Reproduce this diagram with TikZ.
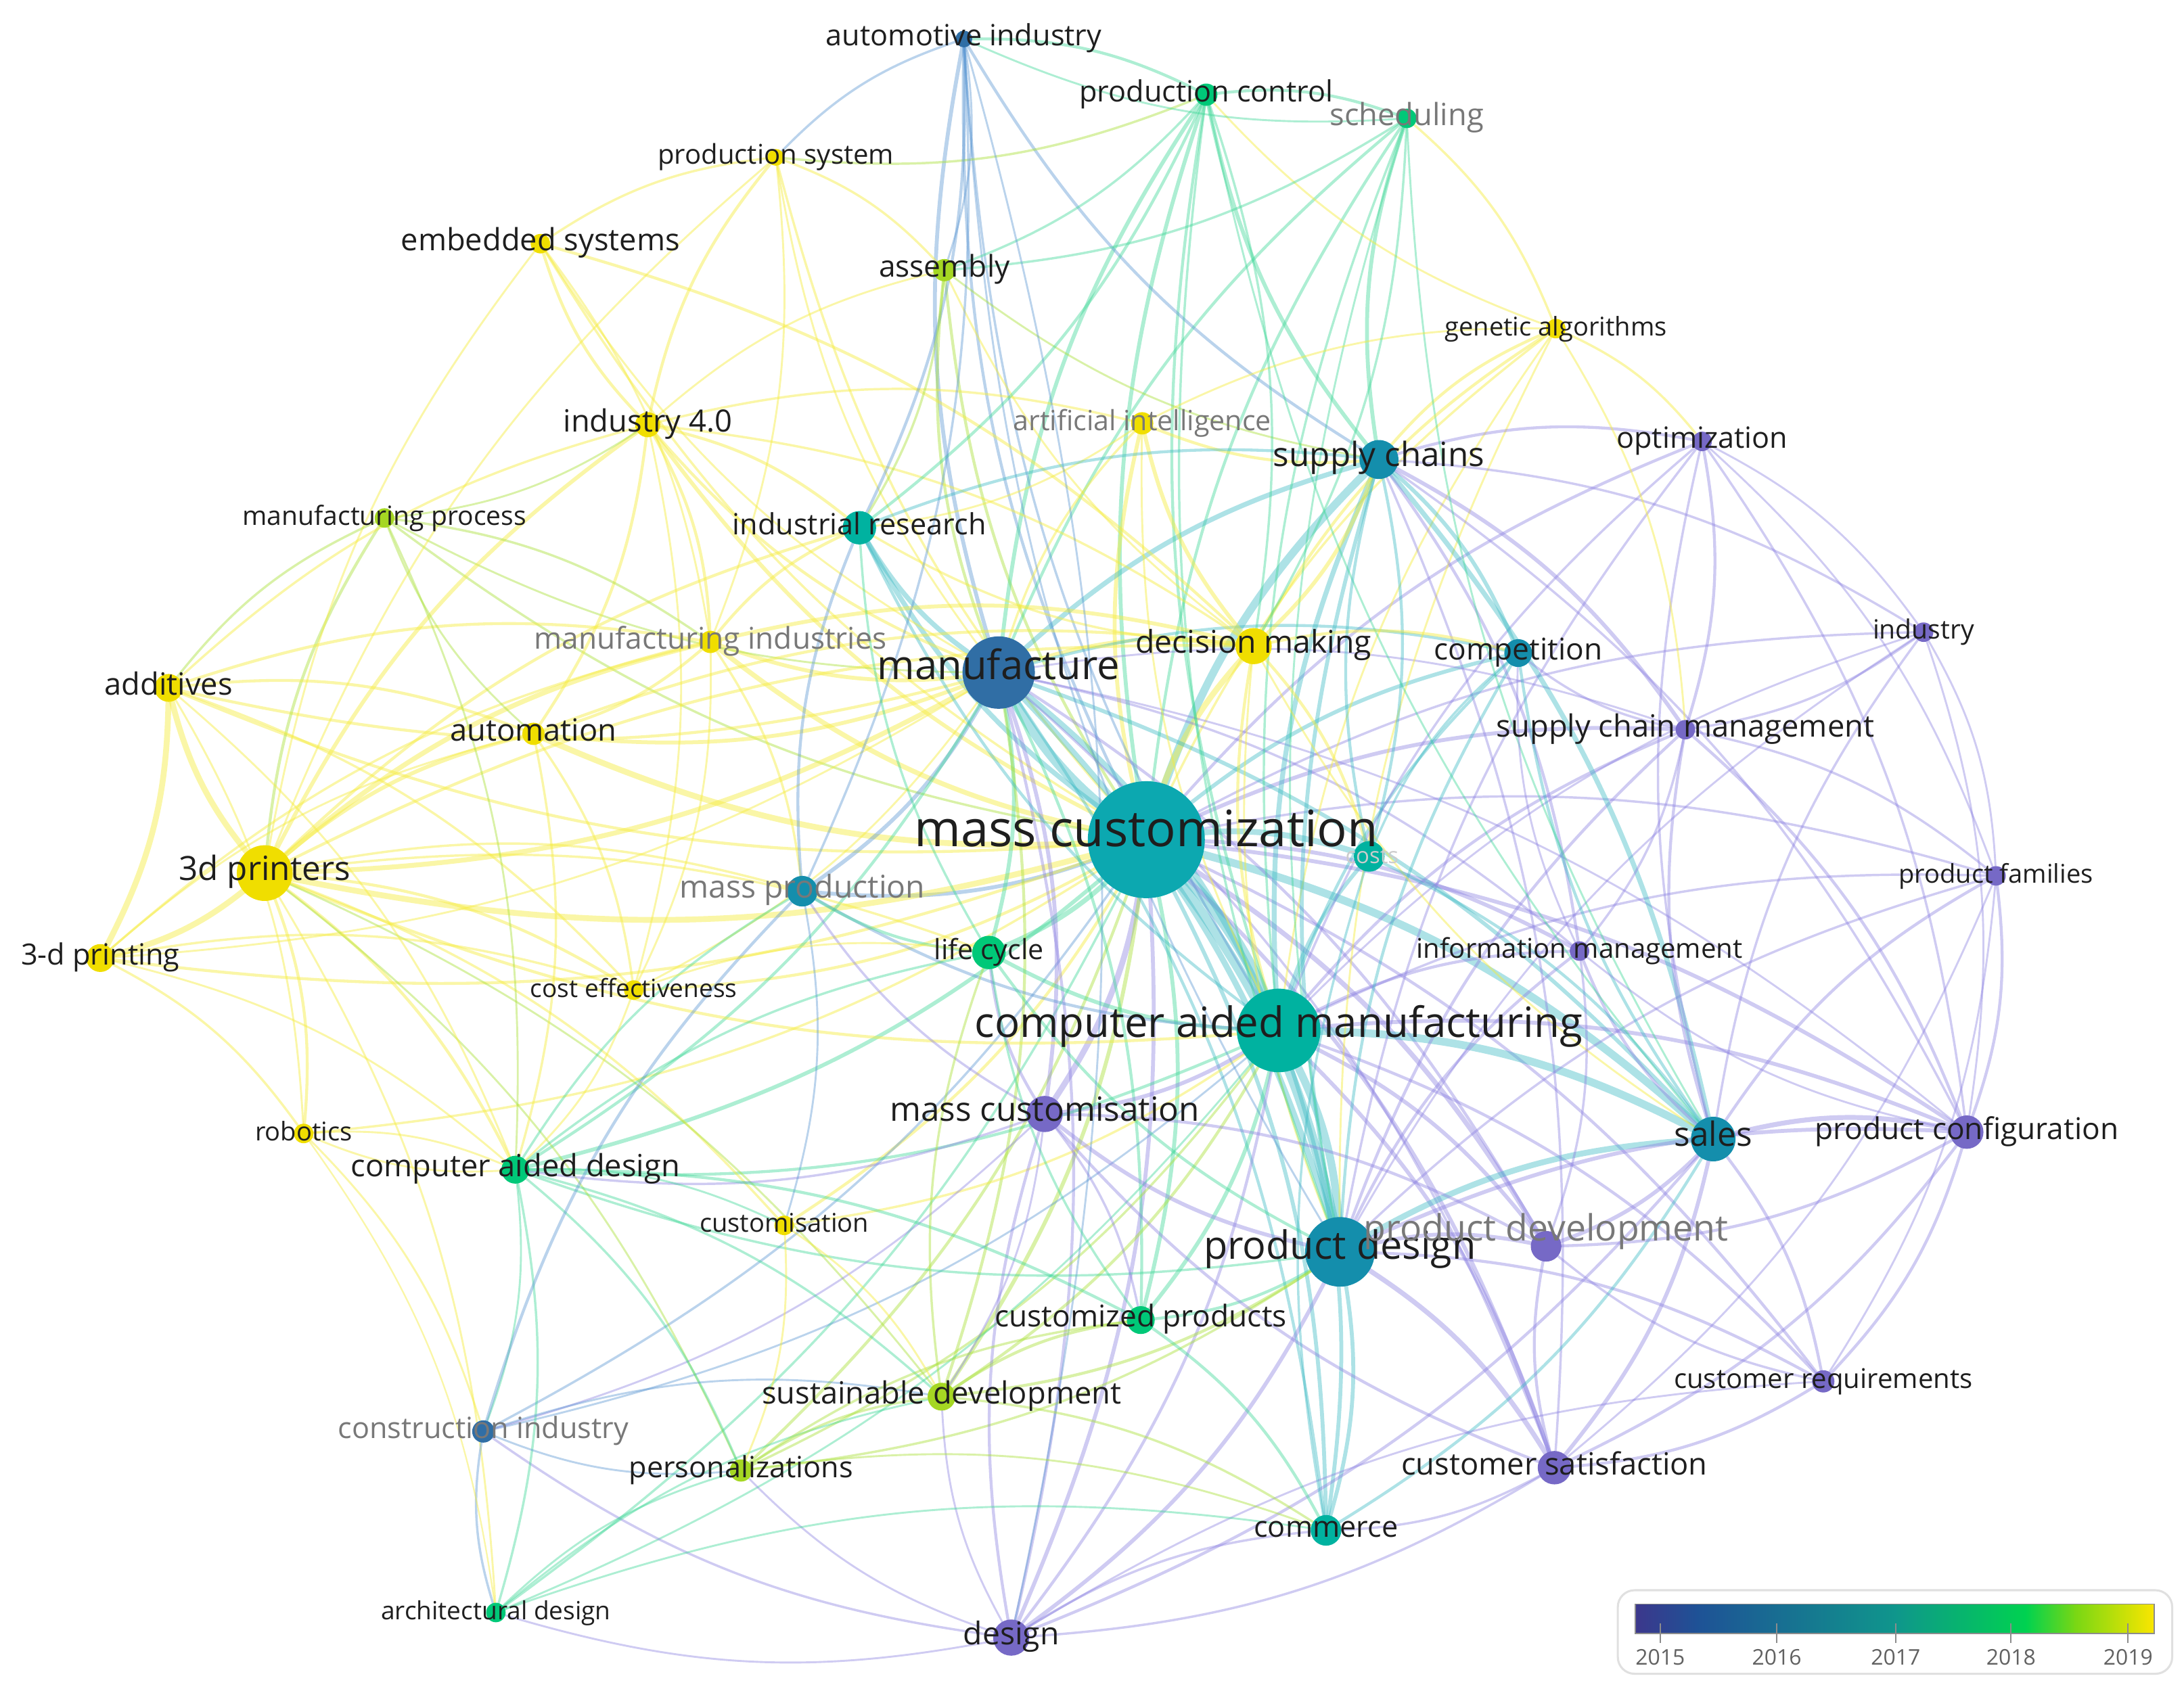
\documentclass[tikz,border=0pt]{standalone}
\usepackage{fontspec}
\setmainfont{Open Sans}
\pgfdeclarelayer{edges}
\pgfdeclarelayer{labels}
\pgfsetlayers{edges,main,labels}
\def\S{0.5}
\def\W{0.7}
\def\BND{14}
\newcommand\kwfs[1]{\pgfmathsetmacro\kwsz{#1*\S}\fontsize{\kwsz pt}{\kwsz pt}\selectfont}
\definecolor{nY}{RGB}{240,222,0}
\definecolor{nL}{RGB}{165,215,35}
\definecolor{nG}{RGB}{0,200,120}
\definecolor{nT}{RGB}{0,178,160}
\definecolor{nMC}{RGB}{12,168,176}
\definecolor{nTB}{RGB}{20,142,172}
\definecolor{nB}{RGB}{48,110,165}
\definecolor{nP}{RGB}{118,105,198}
\definecolor{edY}{RGB}{245,235,60}
\definecolor{edL}{RGB}{170,225,60}
\definecolor{edG}{RGB}{60,215,150}
\definecolor{edT}{RGB}{60,185,195}
\definecolor{edB}{RGB}{90,150,210}
\definecolor{edP}{RGB}{140,130,225}
\definecolor{lgA}{RGB}{60,55,140}
\definecolor{lgB}{RGB}{30,82,150}
\definecolor{lgC}{RGB}{15,150,140}
\definecolor{lgD}{RGB}{0,210,80}
\definecolor{lgE}{RGB}{120,215,20}
\definecolor{lgF}{RGB}{250,230,0}
\definecolor{txt}{RGB}{30,30,30}
\definecolor{gtxt}{RGB}{120,120,120}
\tikzset{
  kn/.style={circle,inner sep=0pt,draw=none,minimum size={#1*\S}},
  lab/.style={inner sep=0pt,text height=0.72em,text depth=0.22em,text=txt,anchor=center},
  glab/.style={lab,text=gtxt},
  eY/.style={draw=edY,draw opacity=.45,line cap=round},
  eL/.style={draw=edL,draw opacity=.45,line cap=round},
  eG/.style={draw=edG,draw opacity=.42,line cap=round},
  eT/.style={draw=edT,draw opacity=.42,line cap=round},
  eB/.style={draw=edB,draw opacity=.42,line cap=round},
  eP/.style={draw=edP,draw opacity=.42,line cap=round},
}
\begin{document}
\begin{tikzpicture}[x=0.5pt,y=-0.5pt]
\useasboundingbox (0,0) rectangle (1568,1214);
% ---------- nodes ----------
\node[kn=12,fill=nB] (ai) at (692,28) {};
\node[kn=16,fill=nG] (pc) at (866,68) {};
\node[kn=14,fill=nG] (sch) at (1010,85) {};
\node[kn=12,fill=nY] (ps) at (557,113) {};
\node[kn=14,fill=nY] (es) at (388,175) {};
\node[kn=16,fill=nL] (asm) at (678,194) {};
\node[kn=14,fill=nY] (ga) at (1117,236) {};
\node[kn=18,fill=nY] (i40) at (465,305) {};
\node[kn=16,fill=nY] (aint) at (820,304) {};
\node[kn=28,fill=nTB] (sc) at (990,330) {};
\node[kn=14,fill=nP] (opt) at (1222,317) {};
\node[kn=14,fill=nL] (mp) at (276,372) {};
\node[kn=24,fill=nT] (ir) at (617,379) {};
\node[kn=16,fill=nY] (mi) at (510,461) {};
\node[kn=26,fill=nY] (dm) at (900,464) {};
\node[kn=20,fill=nTB] (comp) at (1090,469) {};
\node[kn=14,fill=nP] (ind) at (1381,454) {};
\node[kn=52,fill=nB] (mf) at (717,483) {};
\node[kn=20,fill=nY] (add) at (121,494) {};
\node[kn=16,fill=nY] (aut) at (383,527) {};
\node[kn=14,fill=nP] (scm) at (1210,524) {};
\node[kn=84,fill=nMC] (mc) at (823,603) {};
\node[kn=22,fill=nT] (cst) at (983,615) {};
\node[kn=40,fill=nY] (p3d) at (190,627) {};
\node[kn=22,fill=nTB] (mpr) at (576,640) {};
\node[kn=14,fill=nP] (pf) at (1433,629) {};
\node[kn=20,fill=nY] (d3p) at (72,688) {};
\node[kn=24,fill=nG] (lc) at (710,684) {};
\node[kn=14,fill=nP] (im) at (1134,683) {};
\node[kn=14,fill=nY] (ce) at (455,711) {};
\node[kn=60,fill=nT] (cam) at (918,740) {};
\node[kn=26,fill=nP] (mcs) at (750,800) {};
\node[kn=14,fill=nY] (rob) at (218,814) {};
\node[kn=32,fill=nTB] (sal) at (1230,818) {};
\node[kn=24,fill=nP] (pcf) at (1412,813) {};
\node[kn=20,fill=nG] (cad) at (370,840) {};
\node[kn=14,fill=nY] (cus) at (563,880) {};
\node[kn=50,fill=nTB] (pd) at (962,899) {};
\node[kn=22,fill=nP] (pdv) at (1110,895) {};
\node[kn=20,fill=nG] (cp) at (819,948) {};
\node[kn=20,fill=nL] (sd) at (676,1003) {};
\node[kn=16,fill=nP] (cr) at (1309,992) {};
\node[kn=16,fill=nB] (ci) at (347,1028) {};
\node[kn=16,fill=nL] (per) at (532,1056) {};
\node[kn=24,fill=nP] (cs) at (1116,1054) {};
\node[kn=22,fill=nT] (com) at (952,1099) {};
\node[kn=14,fill=nG] (ad) at (356,1158) {};
\node[kn=26,fill=nP] (des) at (726,1176) {};
% ---------- labels ----------
\begin{pgfonlayer}{labels}
\node[lab,font=\kwfs{21}] (ai-t) at (ai) {automotive industry};
\node[lab,font=\kwfs{21}] (pc-t) at (pc) {production control};
\node[glab,font=\kwfs{22}] (sch-t) at (sch) {scheduling};
\node[lab,font=\kwfs{19.5}] (ps-t) at (ps) {production system};
\node[lab,font=\kwfs{22}] (es-t) at (es) {embedded systems};
\node[lab,font=\kwfs{21.5}] (asm-t) at (asm) {assembly};
\node[lab,font=\kwfs{18.5}] (ga-t) at (ga) {genetic algorithms};
\node[lab,font=\kwfs{22}] (i40-t) at (i40) {industry 4.0};
\node[glab,font=\kwfs{20}] (aint-t) at (aint) {artificial intelligence};
\node[lab,font=\kwfs{24}] (sc-t) at (sc) {supply chains};
\node[lab,font=\kwfs{21}] (opt-t) at (opt) {optimization};
\node[lab,font=\kwfs{19}] (mp-t) at (mp) {manufacturing process};
\node[lab,font=\kwfs{21}] (ir-t) at (ir) {industrial research};
\node[glab,font=\kwfs{21.5}] (mi-t) at (mi) {manufacturing industries};
\node[lab,font=\kwfs{22.5}] (dm-t) at (dm) {decision making};
\node[lab,font=\kwfs{21.5}] (comp-t) at (comp) {competition};
\node[lab,font=\kwfs{19}] (ind-t) at (ind) {industry};
\node[lab,font=\kwfs{29}] (mf-t) at (mf) {manufacture};
\node[lab,font=\kwfs{22}] (add-t) at (add) {additives};
\node[lab,font=\kwfs{22}] (aut-t) at (aut) {automation};
\node[lab,font=\kwfs{22}] (scm-t) at (scm) {supply chain management};
\node[lab,font=\kwfs{36}] (mc-t) at (mc) {mass customization};
\node[lab,font=\kwfs{16},text=black!20] (cst-t) at ([xshift=1pt]cst) {costs};
\node[lab,font=\kwfs{24}] (p3d-t) at (p3d) {3d printers};
\node[glab,font=\kwfs{22.5}] (mpr-t) at (mpr) {mass production};
\node[lab,font=\kwfs{18.5}] (pf-t) at (pf) {product families};
\node[lab,font=\kwfs{21}] (d3p-t) at (d3p) {3-d printing};
\node[lab,font=\kwfs{20}] (lc-t) at (lc) {life cycle};
\node[lab,font=\kwfs{19.5}] (im-t) at (im) {information management};
\node[lab,font=\kwfs{18}] (ce-t) at (ce) {cost effectiveness};
\node[lab,font=\kwfs{30}] (cam-t) at (cam) {computer aided manufacturing};
\node[lab,font=\kwfs{24}] (mcs-t) at (mcs) {mass customisation};
\node[lab,font=\kwfs{18.5}] (rob-t) at (rob) {robotics};
\node[lab,font=\kwfs{24}] (sal-t) at (sal) {sales};
\node[lab,font=\kwfs{21.5}] (pcf-t) at (pcf) {product configuration};
\node[lab,font=\kwfs{22}] (cad-t) at (cad) {computer aided design};
\node[lab,font=\kwfs{18.5}] (cus-t) at (cus) {customisation};
\node[lab,font=\kwfs{28}] (pd-t) at (pd) {product design};
\node[glab,font=\kwfs{26}] (pdv-t) at ([yshift=4.5pt]pdv) {product development};
\node[lab,font=\kwfs{21.5}] (cp-t) at (cp) {customized products};
\node[lab,font=\kwfs{22}] (sd-t) at (sd) {sustainable development};
\node[lab,font=\kwfs{19.5}] (cr-t) at (cr) {customer requirements};
\node[glab,font=\kwfs{21}] (ci-t) at (ci) {construction industry};
\node[lab,font=\kwfs{21}] (per-t) at (per) {personalizations};
\node[lab,font=\kwfs{22}] (cs-t) at (cs) {customer satisfaction};
\node[lab,font=\kwfs{21}] (com-t) at (com) {commerce};
\node[lab,font=\kwfs{18}] (ad-t) at (ad) {architectural design};
\node[lab,font=\kwfs{22.5}] (des-t) at (des) {design};
\end{pgfonlayer}
% ---------- edges ----------
\begin{pgfonlayer}{edges}
\foreach \t/\c/\w in {mf/T/5,cam/T/6,pd/T/5,sc/T/4,sal/T/4,mcs/P/3,lc/G/2.5,mpr/B/2,ir/T/2.5,dm/Y/3,comp/T/2,cst/T/3,im/P/2,pdv/P/2.5,cp/G/2,com/T/2,des/P/2,cs/P/2,p3d/Y/3,add/Y/1.5,aut/Y/3,i40/Y/2,mi/Y/2.5,pc/G/2,sch/G/1.5,asm/L/1.5,ai/B/1.5,aint/Y/2,ga/Y/1.2,opt/P/1.5,scm/P/2,ind/P/1.2,pf/P/1.2,pcf/P/2,cr/P/1.5,cad/G/2,cus/Y/1.5,sd/L/2,per/L/1.5,ci/B/1.2,ad/G/1.2,ce/Y/1.5,d3p/Y/1.5,rob/Y/1.2,mp/L/1.2,ps/Y/1.2,es/Y/1.2}
  \draw[e\c,line width=\w*\W] (mc.center) to[bend left=\BND] (\t.center);
\foreach \t/\c/\w in {cam/T/3,pd/T/3,sc/T/2.5,sal/T/2,mcs/P/2,lc/G/2,mpr/B/2,ir/T/2.5,dm/Y/2,comp/T/1.5,pc/G/2,ai/B/2,asm/L/1.5,i40/Y/1.5,mi/Y/2,aut/Y/2,p3d/Y/2.5,add/Y/1.5,cad/G/1.5,des/P/1.5,com/T/1.5,cp/G/1.5,sd/L/1.5,sch/G/1.5,aint/Y/1.2,pdv/P/1.5,cs/P/1.2,im/P/1.2,ps/Y/1,es/Y/1,mp/L/1,ce/Y/1,d3p/Y/1,scm/P/1,pcf/P/1}
  \draw[e\c,line width=\w*\W] (mf.center) to[bend left=\BND] (\t.center);
\foreach \t/\c/\w in {pd/T/4,sal/T/4,sc/T/2.5,mcs/P/2,lc/G/2,comp/T/1.5,cst/T/2,im/P/1.5,pdv/P/2,cp/G/2,com/T/2,des/P/1.5,cs/P/2,pcf/P/2,cr/P/1.5,scm/P/1.5,opt/P/1.2,pf/P/1.2,ind/P/1,dm/Y/1.5,ir/T/1.5,pc/G/1.5,sch/G/1.2,ga/Y/1,aint/Y/1,mpr/B/1.5,cad/G/1.5,sd/L/1.5,per/L/1.2,cus/Y/1.2,p3d/Y/1.5,ad/G/1,ci/B/1,ai/B/1.2}
  \draw[e\c,line width=\w*\W] (cam.center) to[bend left=\BND] (\t.center);
\foreach \t/\c/\w in {sal/T/3,mcs/P/2,pdv/P/2,cs/P/2.5,cr/P/1.5,pcf/P/2,com/T/2,des/P/2,cp/G/1.5,sc/T/2,comp/T/1.5,im/P/1.5,scm/P/1.5,pf/P/1.2,sd/L/1.5,lc/G/1.5,cad/G/1.2,per/L/1.2,opt/P/1.2,ind/P/1,dm/Y/1,ga/Y/1,pc/G/1.2,sch/G/1,ai/B/1}
  \draw[e\c,line width=\w*\W] (pd.center) to[bend left=\BND] (\t.center);
\foreach \t/\c/\w in {sal/T/2.5,comp/T/2,scm/P/2,opt/P/1.5,dm/Y/2,pc/G/2,sch/G/2,ga/Y/1.5,aint/Y/1.5,ind/P/1.2,im/P/1.5,cst/T/1.5,pcf/P/1.2,cs/P/1.2,ai/B/1.5,asm/L/1}
  \draw[e\c,line width=\w*\W] (sc.center) to[bend left=\BND] (\t.center);
\foreach \t/\c/\w in {pcf/P/2.5,cs/P/2,cr/P/1.5,pdv/P/2,scm/P/1.5,comp/T/1.5,im/P/1.5,pf/P/1.5,ind/P/1.2,opt/P/1.2,des/P/1.5,com/T/1.5,dm/Y/1,pc/G/1,sch/G/1}
  \draw[e\c,line width=\w*\W] (sal.center) to[bend left=\BND] (\t.center);
\foreach \p/\q/\c/\w in {p3d/d3p/Y/3,p3d/add/Y/3,add/d3p/Y/3,p3d/aut/Y/2,p3d/i40/Y/2,p3d/mi/Y/2.5,p3d/ce/Y/1.5,p3d/rob/Y/1.5,p3d/cad/Y/1.5,p3d/mp/L/1.5,p3d/cus/Y/1.2,p3d/dm/Y/1.5,p3d/ir/Y/1.5,p3d/es/Y/1,p3d/ps/Y/1,p3d/lc/Y/1.2,p3d/mpr/Y/1.2,p3d/sd/L/1,p3d/per/L/1,p3d/ad/Y/1,add/aut/Y/1.5,add/mi/Y/1.5,add/i40/Y/1.2,add/mp/L/1.2,add/ce/Y/1.2,add/rob/Y/1,add/cad/Y/1,d3p/ce/Y/1.2,d3p/rob/Y/1.2,d3p/aut/Y/1,d3p/mi/Y/1.2,d3p/cad/Y/1,i40/es/Y/1.5,i40/ps/Y/1.5,i40/mi/Y/1.5,i40/aut/Y/1.5,i40/ir/Y/1.5,i40/dm/Y/1.2,i40/aint/Y/1.2,i40/asm/Y/1,i40/mp/L/1,i40/ce/Y/1,es/ps/Y/1.2,es/dm/Y/1.5,es/mi/Y/1,ps/asm/Y/1.2,ps/ai/B/1.2,pc/ps/L/1.2,ps/mi/Y/1,mi/aut/Y/1.5,mi/dm/Y/2,mi/ir/Y/1.5,mi/mpr/Y/1.2,mi/ce/Y/1,aut/ce/Y/1.2,aut/cad/Y/1.2,aut/dm/Y/1.5,aut/mp/L/1,mp/mi/L/1.2,mp/cad/L/1,dm/aint/Y/2,dm/ga/Y/1.5,dm/comp/Y/1.5,dm/ir/Y/1.2,dm/cst/Y/1.5,dm/asm/Y/1,aint/ga/Y/1,aint/ir/Y/1,ga/opt/Y/1.2,sch/ga/Y/1.2,ga/pc/Y/1,ga/scm/Y/1,pc/sch/G/1.5,ai/pc/G/1.5,pc/asm/G/1.2,pc/ir/G/1.5,pc/dm/G/1.2,sch/ai/G/1,sch/dm/G/1.2,sch/asm/G/1.2,ai/ir/B/1.5,ai/mpr/B/1.2,ai/des/B/1,ai/asm/B/1,asm/ir/L/1.2,ir/sc/T/1.5}
  \draw[e\c,line width=\w*\W] (\p.center) to[bend left=\BND] (\q.center);
\foreach \p/\q/\c/\w in {opt/scm/P/1.5,opt/pcf/P/1.2,opt/pf/P/1,opt/ind/P/1,ind/scm/P/1.2,ind/pf/P/1,ind/pcf/P/1,scm/pf/P/1.2,scm/pcf/P/1.5,scm/im/P/1.2,scm/comp/P/1.2,pf/pcf/P/1.5,pf/cr/P/1,pf/cs/P/1,pcf/cr/P/1.5,pcf/cs/P/1.5,pcf/pdv/P/1.5,pcf/im/P/1,cr/cs/P/1.5,cr/pdv/P/1.2,cs/pdv/P/1.5,cs/com/P/1.2,cs/des/P/1.2,cs/mcs/P/1.5,im/pdv/P/1.2,im/comp/P/1,des/mcs/P/1.5,des/com/P/1.2,des/ci/P/1.2,des/ad/P/1,des/per/P/1,des/sd/P/1,des/cr/P/1,mcs/lc/P/1.5,mcs/pdv/P/1.5,mcs/cp/P/1.2,mcs/mpr/P/1.2,mcs/ci/P/1,mcs/sd/P/1,mcs/cad/P/1.2}
  \draw[e\c,line width=\w*\W] (\p.center) to[bend left=\BND] (\q.center);
\foreach \p/\q/\c/\w in {cad/ci/G/1,cad/ad/G/1.2,cad/per/G/1.2,cad/sd/G/1.2,cad/cp/G/1.5,cad/lc/G/1.2,cad/mpr/G/1.2,cad/cus/G/1,cad/rob/Y/1,ad/ci/B/1.2,per/ci/B/1,ci/mpr/B/1.5,ci/sd/B/1,ad/per/G/1,ad/sd/G/1,ad/com/G/1,per/sd/L/1.2,per/cp/L/1.2,per/com/L/1,sd/cp/L/1.5,sd/com/L/1.2,sd/lc/L/1.2,cp/com/G/1.5,cp/lc/G/1.2,lc/mpr/G/1.5,lc/ir/G/1.2,mpr/ir/B/1.5,mpr/cus/B/1,cus/sd/Y/1,cus/per/Y/1,ce/cad/Y/1,ce/lc/Y/1,rob/cad/Y/1,rob/ci/Y/1,rob/ad/Y/0.8,com/cst/T/1.2,cst/comp/T/1.2,cst/sc/T/1.5,cst/sal/T/1.5}
  \draw[e\c,line width=\w*\W] (\p.center) to[bend left=\BND] (\q.center);
\end{pgfonlayer}
% ---------- legend ----------
\node[draw=black!12,line width=1.5*\S,rounded corners=6,minimum width=398*\S,minimum height=60*\S,inner sep=0] (lgbox) at (1360.5,1172) {};
\coordinate (lg0) at (1174,1152);
\coordinate (lg1) at (1546.6,1173);
\shade[left color=lgA,right color=lgB] (1174,1152) rectangle (1219,1173);
\shade[left color=lgB,right color=lgC] (1218.5,1152) rectangle (1361,1173);
\shade[left color=lgC,right color=lgD] (1360.5,1152) rectangle (1455,1173);
\shade[left color=lgD,right color=lgE] (1454.5,1152) rectangle (1490,1173);
\shade[left color=lgE,right color=lgF] (1489.5,1152) rectangle (1546.6,1173);
\draw[black!45,line width=0.8*\S] (lg0) rectangle (lg1);
\foreach \x/\y in {1192/2015,1275.6/2016,1361/2017,1443.8/2018,1527.8/2019}{
  \draw[black!45,line width=1*\S] (\x,1166) -- (\x,1180);
  \node[inner sep=0,text=black!62,font=\kwfs{15.5}] (yr\y) at (\x,1190) {\y};
}
\end{tikzpicture}
\end{document}
